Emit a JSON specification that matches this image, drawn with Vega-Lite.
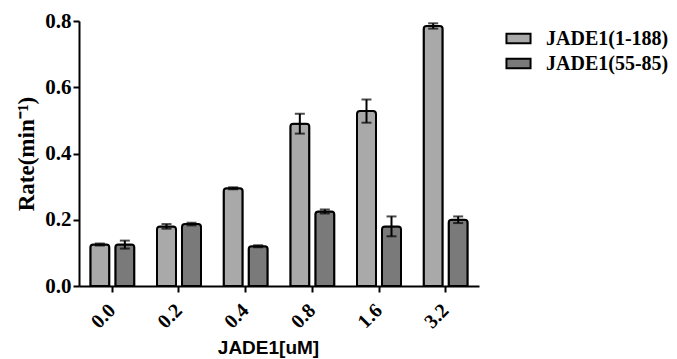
{
  "$schema": "https://vega.github.io/schema/vega-lite/v6.json",
  "autosize": "none",
  "width": 400,
  "height": 265,
  "padding": {"left": 79, "top": 21, "right": 198, "bottom": 73},
  "background": "white",
  "data": {"values": [
    {"conc": "0.0", "series": "JADE1(1-188)", "rate": 0.125, "err": 0.003},
    {"conc": "0.0", "series": "JADE1(55-85)", "rate": 0.125, "err": 0.012},
    {"conc": "0.2", "series": "JADE1(1-188)", "rate": 0.18, "err": 0.007},
    {"conc": "0.2", "series": "JADE1(55-85)", "rate": 0.187, "err": 0.004},
    {"conc": "0.4", "series": "JADE1(1-188)", "rate": 0.295, "err": 0.003},
    {"conc": "0.4", "series": "JADE1(55-85)", "rate": 0.12, "err": 0.003},
    {"conc": "0.8", "series": "JADE1(1-188)", "rate": 0.49, "err": 0.03},
    {"conc": "0.8", "series": "JADE1(55-85)", "rate": 0.225, "err": 0.006},
    {"conc": "1.6", "series": "JADE1(1-188)", "rate": 0.528, "err": 0.035},
    {"conc": "1.6", "series": "JADE1(55-85)", "rate": 0.18, "err": 0.03},
    {"conc": "3.2", "series": "JADE1(1-188)", "rate": 0.785, "err": 0.008},
    {"conc": "3.2", "series": "JADE1(55-85)", "rate": 0.2, "err": 0.01}
  ]},
  "transform": [
    {"calculate": "datum.rate - datum.err", "as": "lo"},
    {"calculate": "datum.rate + datum.err", "as": "hi"}
  ],
  "encoding": {
    "x": {
      "field": "conc", "type": "ordinal", "sort": null,
      "scale": {"paddingInner": 0.34, "paddingOuter": 0.17},
      "axis": {
        "title": "JADE1[uM]",
        "titleFont": "Liberation Sans", "titleFontSize": 19, "titleFontWeight": "bold", "titleColor": "black",
        "titleX": 189, "titleY": 52, "titleBaseline": "top", "titleAlign": "center",
        "labelAngle": -45, "labelAlign": "right", "labelBaseline": "middle",
        "labelFont": "Liberation Serif", "labelFontSize": 20, "labelFontWeight": "bold", "labelColor": "black",
        "labelPadding": 15,
        "domainColor": "black", "domainWidth": 2, "tickColor": "black", "tickWidth": 2, "tickSize": 6
      }
    },
    "xOffset": {"field": "series", "type": "nominal", "scale": {"paddingInner": 0.24}}
  },
  "layer": [
    {
      "mark": {"type": "bar", "stroke": "black", "strokeWidth": 2, "cornerRadiusTopLeft": 3, "cornerRadiusTopRight": 3},
      "encoding": {
        "y": {
          "field": "rate", "type": "quantitative",
          "scale": {"domain": [0, 0.8]},
          "axis": {
            "title": "Rate(min⁻¹)", "values": [0, 0.2, 0.4, 0.6, 0.8], "format": ".1f",
            "grid": false,
            "titleFont": "Liberation Serif", "titleFontSize": 23, "titleFontWeight": "bold", "titleColor": "black",
            "titlePadding": 6,
            "labelFont": "Liberation Serif", "labelFontSize": 21, "labelFontWeight": "bold", "labelColor": "black",
            "labelPadding": 2,
            "domainColor": "black", "domainWidth": 2, "tickColor": "black", "tickWidth": 2, "tickSize": 6
          }
        },
        "fill": {
          "field": "series", "type": "nominal",
          "scale": {"range": ["#a9a9a9", "#7a7a7a"]},
          "legend": {
            "title": null, "orient": "none", "legendX": 426, "legendY": 4,
            "symbolType": "M-1,-0.4H1V0.4H-1Z", "symbolSize": 580, "symbolStrokeColor": "black", "symbolStrokeWidth": 2,
            "labelFont": "Liberation Serif", "labelFontSize": 20, "labelFontWeight": "bold", "labelColor": "black",
            "labelOffset": 14, "rowPadding": 1
          }
        }
      }
    },
    {
      "mark": {"type": "rule", "color": "black", "strokeWidth": 2},
      "encoding": {"y": {"field": "lo", "type": "quantitative"}, "y2": {"field": "hi"}}
    },
    {
      "mark": {"type": "tick", "color": "black", "thickness": 2, "size": 10},
      "encoding": {"y": {"field": "hi", "type": "quantitative"}}
    },
    {
      "mark": {"type": "tick", "color": "black", "thickness": 2, "size": 10},
      "encoding": {"y": {"field": "lo", "type": "quantitative"}}
    }
  ],
  "config": {"view": {"stroke": null}}
}
